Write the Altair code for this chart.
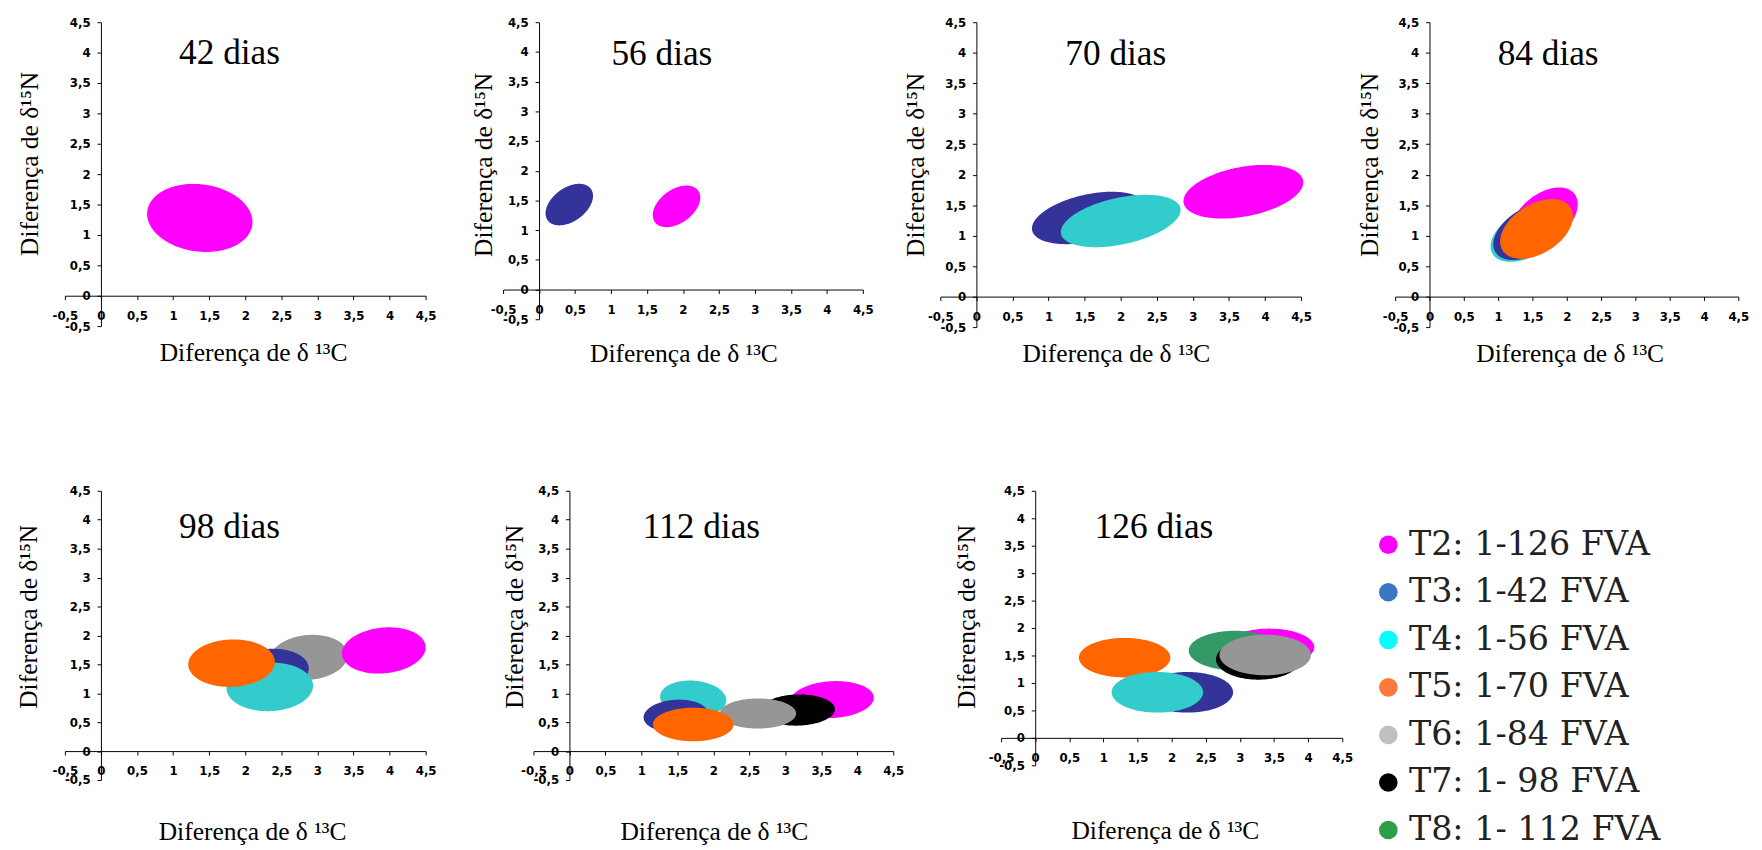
import altair as alt
import pandas as pd

# ---------------- data ----------------
TRAT = ["T2", "T3", "T4", "T5", "T6", "T7", "T8"]
ELLIPSE_COLORS = ["#FF00FF", "#333399", "#33CCCC", "#FF6600", "#969696", "#000000", "#339966"]
LEGEND_LABELS = ["T2: 1-126 FVA", "T3: 1-42 FVA", "T4: 1-56 FVA", "T5: 1-70 FVA",
                 "T6: 1-84 FVA", "T7: 1- 98 FVA", "T8: 1- 112 FVA"]
LEGEND_COLORS = ["#FF00FF", "#3A76C2", "#00FFFF", "#FF7A3A", "#C0C0C0", "#000000", "#2CA048"]

PANELS = ["42 dias", "56 dias", "70 dias", "84 dias", "98 dias", "112 dias", "126 dias"]
TICKS = [-0.5, 0, 0.5, 1, 1.5, 2, 2.5, 3, 3.5, 4, 4.5]

# ellipses in drawing order: panel, treatment, centre (d13C, d15N), half-extent (x, y), tilt
ell_panel = (["42 dias"] + ["56 dias"] * 2 + ["70 dias"] * 3 + ["84 dias"] * 4
             + ["98 dias"] * 5 + ["112 dias"] * 6 + ["126 dias"] * 7)
ell_trat = ["T2",
            "T3", "T2",
            "T2", "T3", "T4",
            "T2", "T4", "T3", "T5",
            "T6", "T2", "T3", "T4", "T5",
            "T2", "T7", "T4", "T6", "T3", "T5",
            "T5", "T3", "T4", "T2", "T8", "T7", "T6"]
ell_cx = [1.37,
          0.42, 1.91,
          3.70, 1.56, 2.00,
          1.67, 1.42, 1.45, 1.56,
          2.88, 3.92, 2.33, 2.34, 1.81,
          3.65, 3.17, 1.72, 2.62, 1.48, 1.72,
          1.31, 2.23, 1.79, 3.43, 2.93, 3.27, 3.37]
ell_cy = [1.28,
          1.43, 1.40,
          1.72, 1.29, 1.24,
          1.29, 1.03, 1.07, 1.11,
          1.62, 1.74, 1.39, 1.11, 1.52,
          0.89, 0.71, 0.91, 0.65, 0.61, 0.46,
          1.46, 0.83, 0.83, 1.65, 1.59, 1.43, 1.51]
ell_hx = [0.73,
          0.33, 0.33,
          0.83, 0.79, 0.83,
          0.49, 0.53, 0.52, 0.53,
          0.54, 0.58, 0.55, 0.60, 0.60,
          0.58, 0.52, 0.46, 0.53, 0.45, 0.56,
          0.67, 0.67, 0.67, 0.66, 0.68, 0.62, 0.67]
ell_hy = [0.56,
          0.35, 0.35,
          0.44, 0.43, 0.43,
          0.50, 0.46, 0.47, 0.49,
          0.39, 0.40, 0.38, 0.42, 0.41,
          0.32, 0.27, 0.31, 0.26, 0.28, 0.29,
          0.36, 0.37, 0.37, 0.34, 0.36, 0.37, 0.37]
ell_rho = [-0.12,
           0.42, 0.42,
           0.35, 0.40, 0.42,
           0.45, 0.45, 0.45, 0.42,
           0.10, 0.13, 0.10, 0.05, 0.05,
           0.10, 0.05, -0.10, 0.0, 0.10, 0.0,
           0.0, 0.0, 0.0, 0.0, 0.0, 0.0, 0.0]

df = pd.DataFrame({"panel": ell_panel, "trat": ell_trat, "cx": ell_cx, "cy": ell_cy,
                   "hx": ell_hx, "hy": ell_hy, "rho": ell_rho})
df["ord"] = range(len(df))

# ---------------- layout / style ----------------
LAYOUT = {
    "42 dias": dict(w=368, h=310, tdx=116, tdy=42, xtx=192, xty=66, ytx=-73, yty=144),
    "56 dias": dict(w=367, h=303, tdx=110, tdy=43, xtx=184, xty=73, ytx=-56, yty=145),
    "70 dias": dict(w=368, h=311, tdx=127, tdy=43, xtx=179, xty=66, ytx=-62, yty=145),
    "84 dias": dict(w=350, h=311, tdx=104, tdy=43, xtx=178, xty=66, ytx=-61, yty=145),
    "98 dias": dict(w=368, h=295, tdx=116, tdy=48, xtx=191, xty=90, ytx=-74, yty=128),
    "112 dias": dict(w=367, h=295, tdx=111, tdy=48, xtx=184, xty=90, ytx=-56, yty=128),
    "126 dias": dict(w=348, h=280, tdx=95, tdy=48, xtx=167, xty=103, ytx=-70, yty=128),
}

LABEL_EXPR = "replace(replace(format(datum.value, '.1~f'), '.', ','), '\u2212', '-')"
fill_scale = alt.Scale(domain=TRAT, range=ELLIPSE_COLORS)


def axis(offset, title, pad, tx, ty, angle=0, baseline="alphabetic"):
    return alt.Axis(values=TICKS, offset=offset, labelExpr=LABEL_EXPR, grid=False,
                    domainColor="black", domainWidth=1, tickColor="black", tickSize=4,
                    labelFont="DejaVu Sans", labelFontWeight="bold", labelFontSize=12,
                    labelColor="black", labelPadding=pad, labelFlush=False, labelOverlap=False,
                    title=title, titleFont="Liberation Serif", titleFontSize=26,
                    titleFontWeight="normal", titleColor="black", titleX=tx, titleY=ty,
                    titleAlign="center", titleBaseline=baseline, titleAngle=angle)


def build(name):
    L = LAYOUT[name]
    sub = df[df.panel == name]
    xs = alt.Scale(domain=[-0.5, 4.5], nice=False, zero=False)
    ys = alt.Scale(domain=[-0.5, 4.5], nice=False, zero=False)
    ell = (
        alt.Chart(sub)
        .transform_calculate(t="sequence(0, 121)")
        .transform_flatten(["t"])
        .transform_calculate(
            u="cos(PI * datum.t / 120)",
            xx="datum.cx + datum.hx * datum.u",
            m="datum.cy + datum.rho * datum.hy * datum.u",
            s="datum.hy * sqrt(1 - datum.rho * datum.rho) * sqrt(max(0, 1 - datum.u * datum.u))",
        )
        .transform_calculate(ylo="datum.m - datum.s", yhi="datum.m + datum.s")
        .mark_area(interpolate="linear", opacity=1)
        .encode(
            x=alt.X("xx:Q", scale=xs,
                    axis=axis(-L["h"] * 0.1, "Diferença de δ ¹³C", 11, L["xtx"], L["xty"])),
            y=alt.Y("ylo:Q", scale=ys, stack=None,
                    axis=axis(-L["w"] * 0.1, "Diferença de δ¹⁵N", 7, L["ytx"], L["yty"],
                              angle=270, baseline="middle")),
            y2="yhi:Q",
            fill=alt.Fill("trat:N", scale=fill_scale, legend=None),
            detail="ord:N",
        )
    )
    # panel caption drawn as the title of a hidden top axis, placed inside the plot
    cap = (
        alt.Chart(sub)
        .transform_filter("false")
        .mark_point(opacity=0)
        .encode(x=alt.X("cx:Q", scale=xs, axis=alt.Axis(
            orient="top", domain=False, ticks=False, labels=False, grid=False,
            minExtent=0, maxExtent=0, offset=0, title=name, titleX=L["tdx"], titleY=L["tdy"],
            titleAlign="left", titleBaseline="alphabetic", titleAngle=0,
            titleFont="Liberation Serif", titleFontSize=36, titleFontWeight="normal",
            titleColor="black")))
    )
    layers = [ell, cap]
    if name == "126 dias":
        leg = (
            alt.Chart(pd.DataFrame({"lab": LEGEND_LABELS}))
            .transform_filter("false")
            .mark_circle(opacity=1)
            .encode(color=alt.Color(
                "lab:N",
                scale=alt.Scale(domain=LEGEND_LABELS, range=LEGEND_COLORS),
                legend=alt.Legend(orient="none", legendX=378, legendY=38, title=None,
                                  symbolType="circle", symbolSize=360, symbolStrokeWidth=0,
                                  symbolOpacity=1, labelFont="DejaVu Serif", labelFontSize=34,
                                  labelColor="#222222", rowPadding=14.5, labelOffset=4,
                                  padding=0, labelLimit=400),
            ))
        )
        layers.append(leg)
    return (alt.layer(*layers)
            .resolve_axis(x="independent")
            .properties(width=L["w"], height=L["h"]))


charts = {nm: build(nm) for nm in PANELS}

top_inner = alt.hconcat(charts["42 dias"], charts["56 dias"], charts["70 dias"],
                        spacing=79, bounds="flush")
top = alt.hconcat(top_inner, charts["84 dias"], spacing=46)
bottom = alt.hconcat(charts["98 dias"], charts["112 dias"], charts["126 dias"],
                     spacing=110, bounds="flush").resolve_scale(color="independent")

chart = (
    alt.vconcat(top, bottom, spacing=121)
    .resolve_scale(color="independent")
    .properties(padding={"left": 7, "top": 0, "right": 5, "bottom": 0}, background="white")
    .configure_view(stroke=None)
)

chart.save("out.html", embed_options={"renderer": "svg", "actions": False})
